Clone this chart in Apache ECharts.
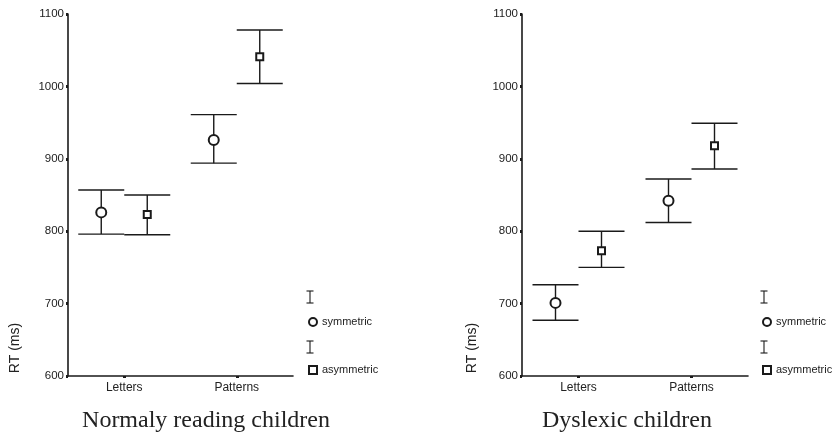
<!DOCTYPE html>
<html>
<head>
<meta charset="utf-8">
<script src="https://cdn.jsdelivr.net/npm/echarts@6/dist/echarts.min.js"></script>
<style>html,body{margin:0;padding:0;background:#fff}#c{width:839px;height:434px}</style>
</head>
<body>
<div id="c"></div>
<script>
const categories = ['Letters', 'Patterns'];
const yTicks = [600, 700, 800, 900, 1000, 1100];
const panelTitles = ['Normaly reading children', 'Dyslexic children'];
const yAxisTitle = 'RT (ms)';
const seriesNames = ['symmetric', 'asymmetric'];

// Normally reading children
const normSymMean = [826, 926];
const normSymLow = [796, 894];
const normSymHigh = [857, 961];
const normAsymMean = [823, 1041];
const normAsymLow = [795, 1004];
const normAsymHigh = [850, 1078];

// Dyslexic children
const dysSymMean = [701, 842];
const dysSymLow = [677, 812];
const dysSymHigh = [726, 872];
const dysAsymMean = [773, 918];
const dysAsymLow = [750, 886];
const dysAsymHigh = [800, 949];

const INK = '#1a1a1a';
const OFF = 23;   // horizontal offset of each condition from category centre (px)
const CAP = 23;   // half width of error-bar caps (px)

function errData(low, high) {
  return categories.map((c, i) => [i, low[i], high[i]]);
}
function errSeries(gi, low, high, off) {
  return {
    type: 'custom', xAxisIndex: gi, yAxisIndex: gi, silent: true, z: 2,
    data: errData(low, high),
    encode: { x: 0, y: [1, 2] },
    renderItem: function (params, api) {
      const i = api.value(0);
      const pLo = api.coord([i, api.value(1)]);
      const pHi = api.coord([i, api.value(2)]);
      const x = pLo[0] + off;
      const st = { stroke: INK, lineWidth: 1.4 };
      return {
        type: 'group', children: [
          { type: 'line', shape: { x1: x, y1: pHi[1], x2: x, y2: pLo[1] }, style: st },
          { type: 'line', shape: { x1: x - CAP, y1: pHi[1], x2: x + CAP, y2: pHi[1] }, style: st },
          { type: 'line', shape: { x1: x - CAP, y1: pLo[1], x2: x + CAP, y2: pLo[1] }, style: st }
        ]
      };
    }
  };
}
function meanSeries(gi, name, mean, off, symbol, size) {
  return {
    type: 'scatter', name: name, xAxisIndex: gi, yAxisIndex: gi, z: 3,
    data: mean, symbol: symbol, symbolSize: size, symbolOffset: [off, 0],
    itemStyle: { color: INK, borderColor: INK, borderWidth: 1, opacity: 1 },
    emphasis: { disabled: true }
  };
}

const grids = [
  { left: 68, top: 14, width: 225, height: 362 },
  { left: 522, top: 14, width: 226, height: 362 }
];
const labelFont = 'Liberation Sans, Arial, sans-serif';

function yAxis(gi) {
  return {
    type: 'value', gridIndex: gi, min: yTicks[0], max: yTicks[yTicks.length - 1], interval: 100,
    axisLine: { show: true, lineStyle: { color: INK, width: 1.6 } },
    axisTick: { show: true, length: 2, lineStyle: { color: INK, width: 3 } },
    axisLabel: { color: '#222', fontSize: 11.5, fontFamily: labelFont, margin: 4, formatter: v => String(v) },
    splitLine: { show: false }
  };
}
function xAxis(gi) {
  return {
    type: 'category', gridIndex: gi, data: categories, boundaryGap: true,
    axisLine: { show: true, lineStyle: { color: INK, width: 1.6 } },
    axisTick: { show: true, alignWithLabel: true, length: 2, lineStyle: { color: INK, width: 3 } },
    axisLabel: { color: '#222', fontSize: 12, fontFamily: labelFont, margin: 6 },
    splitLine: { show: false }
  };
}
function legend(left) {
  return {
    left: left, top: 316, orient: 'vertical', itemGap: 36, padding: 0,
    itemWidth: 8, itemHeight: 8, selectedMode: false,
    data: [
      { name: seriesNames[0], icon: 'emptyCircle' },
      { name: seriesNames[1], icon: 'emptyRect' }
    ],
    textStyle: { color: '#222', fontSize: 11, fontFamily: labelFont, lineHeight: 12 }
  };
}
function ibeam(x, yTop, yBot) {
  const st = { stroke: INK, lineWidth: 1.1 };
  return {
    type: 'group', silent: true, children: [
      { type: 'line', shape: { x1: x, y1: yTop, x2: x, y2: yBot }, style: st },
      { type: 'line', shape: { x1: x - 3.5, y1: yTop, x2: x + 3.5, y2: yTop }, style: st },
      { type: 'line', shape: { x1: x - 3.5, y1: yBot, x2: x + 3.5, y2: yBot }, style: st }
    ]
  };
}
function vText(x, y, text) {
  return {
    type: 'text', x: x, y: y, rotation: Math.PI / 2, silent: true,
    style: { text: text, fill: '#222', font: '14px ' + labelFont, align: 'center', verticalAlign: 'middle' }
  };
}
function title(x, text) {
  return {
    type: 'text', x: x, y: 421, silent: true,
    style: { text: text, fill: '#222', font: '24px Liberation Serif, Times New Roman, serif', align: 'center', verticalAlign: 'middle' }
  };
}

const option = {
  animation: false,
  backgroundColor: '#fff',
  grid: grids,
  xAxis: [xAxis(0), xAxis(1)],
  yAxis: [yAxis(0), yAxis(1)],
  legend: [legend(308), legend(762)],
  series: [
    errSeries(0, normSymLow, normSymHigh, -OFF),
    errSeries(0, normAsymLow, normAsymHigh, OFF),
    meanSeries(0, seriesNames[0], normSymMean, -OFF, 'emptyCircle', 10),
    meanSeries(0, seriesNames[1], normAsymMean, OFF, 'emptyRect', 7),
    errSeries(1, dysSymLow, dysSymHigh, -OFF),
    errSeries(1, dysAsymLow, dysAsymHigh, OFF),
    meanSeries(1, seriesNames[0], dysSymMean, -OFF, 'emptyCircle', 10),
    meanSeries(1, seriesNames[1], dysAsymMean, OFF, 'emptyRect', 7)
  ],
  graphic: [
    ibeam(310, 291, 303), ibeam(310, 341, 353),
    ibeam(764, 291, 303), ibeam(764, 341, 353),
    vText(15, 348, yAxisTitle), vText(472, 348, yAxisTitle),
    title(206, panelTitles[0]), title(627, panelTitles[1])
  ]
};
const chart = echarts.init(document.getElementById('c'), null, { renderer: 'canvas' });
chart.setOption(option);
</script>
</body>
</html>
